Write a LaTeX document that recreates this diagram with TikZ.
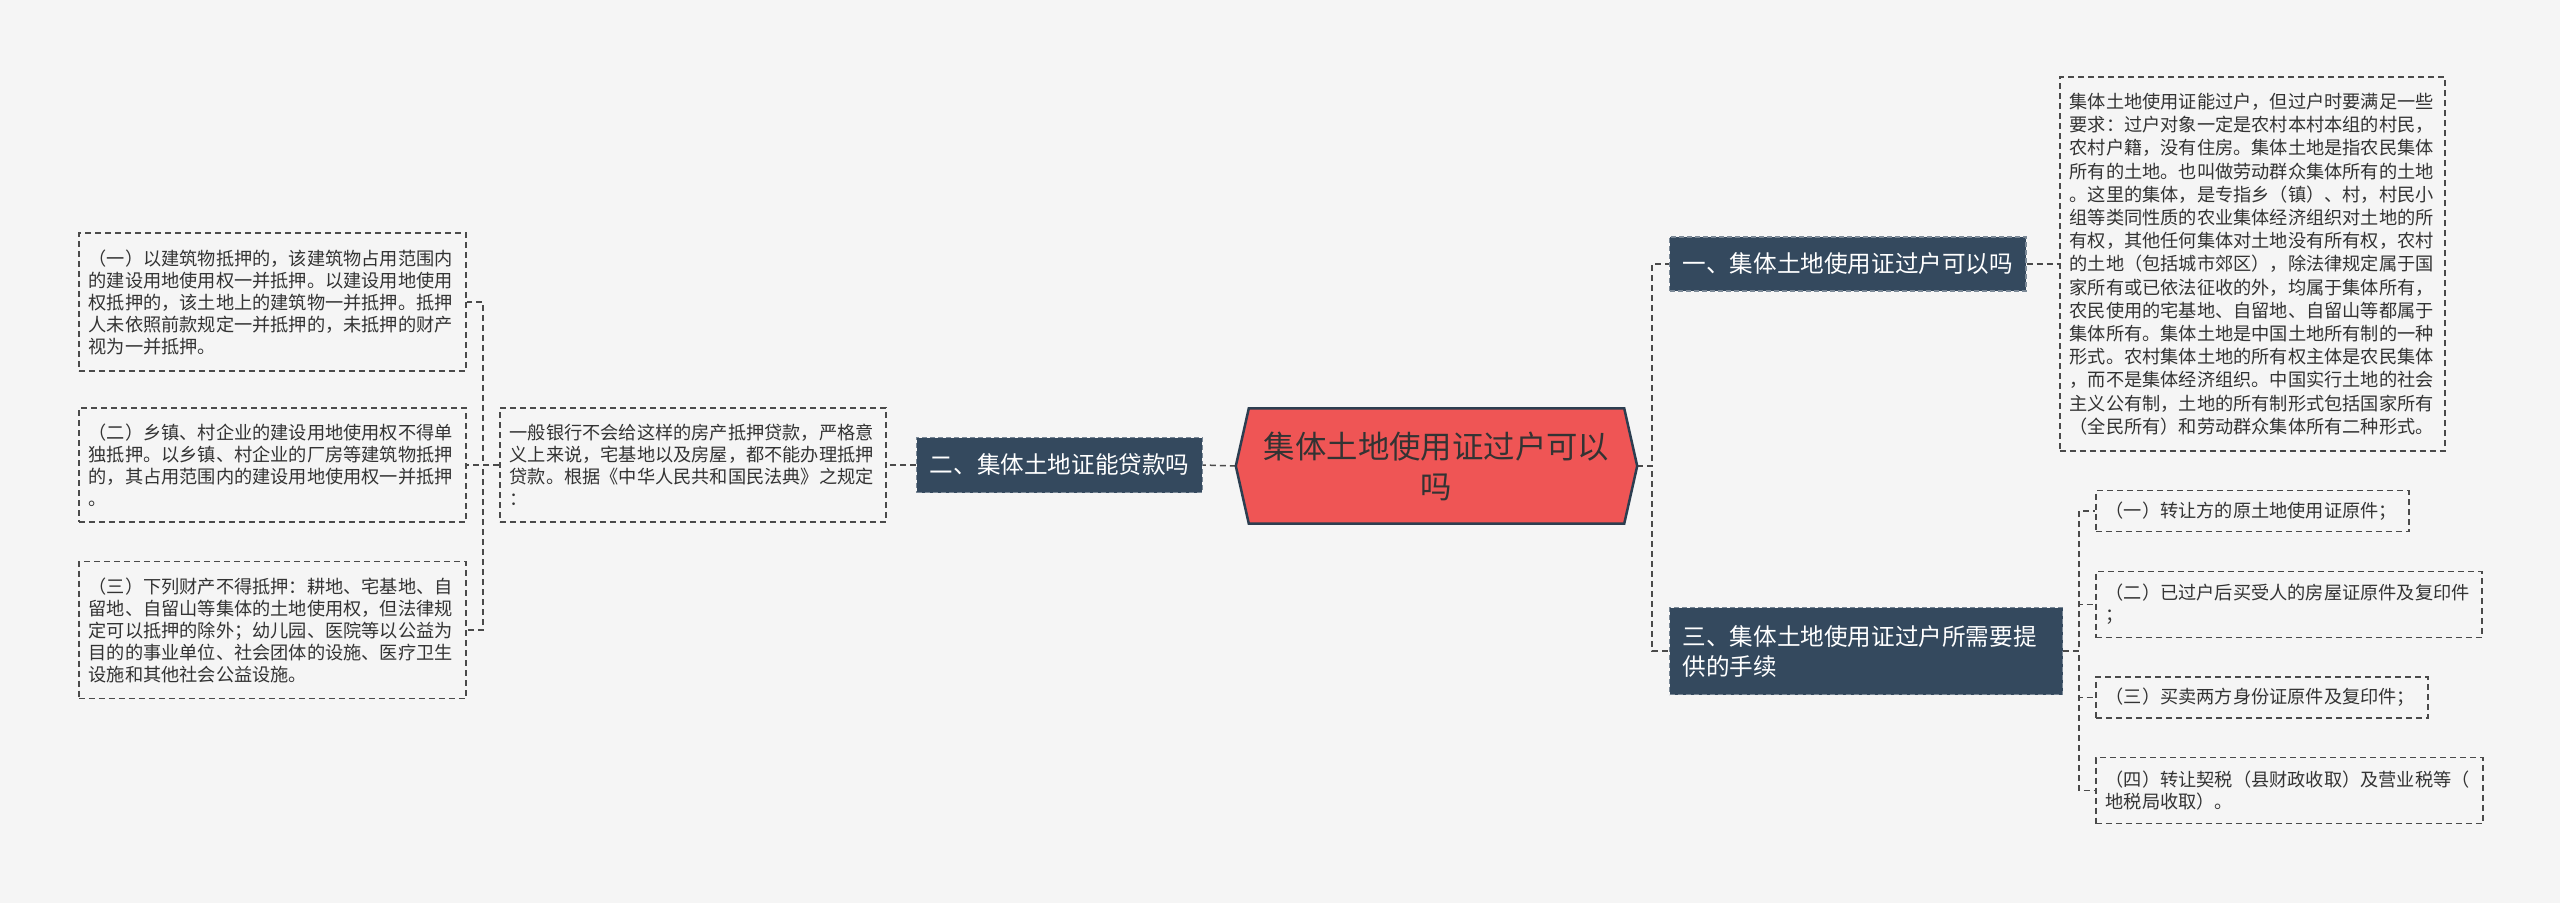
\documentclass[tikz,border=0pt]{standalone}
\usepackage{fontspec}
\setmainfont{Noto Sans CJK SC}
\usetikzlibrary{backgrounds}
\definecolor{bgc}{HTML}{F5F5F5}
\definecolor{linec}{HTML}{4A4A4A}
\definecolor{navy}{HTML}{34495E}
\definecolor{navyedge}{HTML}{7A8896}
\definecolor{cred}{HTML}{EF5555}
\definecolor{hexedge}{HTML}{2C3E50}
\definecolor{txt}{HTML}{333333}
\tikzset{
  conn/.style={draw=linec, line width=1.5pt, dash pattern=on 6pt off 4pt},
  tbox/.style={draw=linec, line width=1.5pt, dash pattern=on 6pt off 4pt, text=txt,
    inner xsep=10pt, inner ysep=4pt, align=left, anchor=west,
    font=\fontsize{18.2}{22}\selectfont},
  branch/.style={fill=navy, draw=navyedge, line width=1.2pt, dash pattern=on 5pt off 3pt,
    text=white, inner xsep=13pt, align=left,
    font=\fontsize{23.6}{30}\selectfont},
  central/.style={text=txt, align=center, minimum width=401pt, minimum height=115pt,
    inner sep=0pt, font=\fontsize{31.4}{40}\selectfont}
}
\begin{document}
\begin{tikzpicture}[x=1pt,y=-1pt]
\useasboundingbox (0,0) rectangle (2560,903);

% central node
\node[central] (c) at (1436.5,466) {集体土地使用证过户可以\\吗};

% branches
\node[branch, anchor=west, minimum width=356pt, minimum height=54pt, align=center] (b1) at (1669,264) {一、集体土地使用证过户可以吗};
\node[branch, anchor=west, text width=367pt, minimum height=87pt] (b3) at (1669,651) {三、集体土地使用证过户所需要提\\供的手续};
\node[branch, anchor=east, minimum width=285pt, minimum height=55pt, align=center] (b2) at (1203,465) {二、集体土地证能贷款吗};

% right top text
\node[tbox, text width=365pt, minimum height=374pt, font=\fontsize{18.2}{23.2}\selectfont] (t1) at (2059,264) {集体土地使用证能过户，但过户时要满足一些\\
要求：过户对象一定是农村本村本组的村民，\\
农村户籍，没有住房。集体土地是指农民集体\\
所有的土地。也叫做劳动群众集体所有的土地\\
。这里的集体，是专指乡（镇）、村，村民小\\
组等类同性质的农业集体经济组织对土地的所\\
有权，其他任何集体对土地没有所有权，农村\\
的土地（包括城市郊区），除法律规定属于国\\
家所有或已依法征收的外，均属于集体所有，\\
农民使用的宅基地、自留地、自留山等都属于\\
集体所有。集体土地是中国土地所有制的一种\\
形式。农村集体土地的所有权主体是农民集体\\
，而不是集体经济组织。中国实行土地的社会\\
主义公有制，土地的所有制形式包括国家所有\\
（全民所有）和劳动群众集体所有二种形式。};

% right items
\node[tbox, text width=293pt, minimum height=41pt] (r1) at (2095,511) {（一）转让方的原土地使用证原件；};
\node[tbox, text width=366pt, minimum height=66pt] (r2) at (2095,604.5) {（二）已过户后买受人的房屋证原件及复印件\\；};
\node[tbox, text width=312pt, minimum height=41pt] (r3) at (2095,697.5) {（三）买卖两方身份证原件及复印件；};
\node[tbox, text width=367pt, minimum height=66pt] (r4) at (2095,790.5) {（四）转让契税（县财政收取）及营业税等（\\地税局收取）。};

% middle text
\node[tbox, text width=366pt, minimum height=114pt] (m) at (499,465) {一般银行不会给这样的房产抵押贷款，严格意\\
义上来说，宅基地以及房屋，都不能办理抵押\\
贷款。根据《中华人民共和国民法典》之规定\\
：};

% left texts
\node[tbox, text width=367pt, minimum height=138pt] (l1) at (78,302) {（一）以建筑物抵押的，该建筑物占用范围内\\
的建设用地使用权一并抵押。以建设用地使用\\
权抵押的，该土地上的建筑物一并抵押。抵押\\
人未依照前款规定一并抵押的，未抵押的财产\\
视为一并抵押。};
\node[tbox, text width=367pt, minimum height=114pt] (l2) at (78,465) {（二）乡镇、村企业的建设用地使用权不得单\\
独抵押。以乡镇、村企业的厂房等建筑物抵押\\
的，其占用范围内的建设用地使用权一并抵押\\
。};
\node[tbox, text width=367pt, minimum height=137pt] (l3) at (78,630) {（三）下列财产不得抵押：耕地、宅基地、自\\
留地、自留山等集体的土地使用权，但法律规\\
定可以抵押的除外；幼儿园、医院等以公益为\\
目的的事业单位、社会团体的设施、医疗卫生\\
设施和其他社会公益设施。};

% background and hexagon
\begin{scope}[on background layer]
\fill[bgc] (0,0) rectangle (2560,903);
\draw[conn] (c.east) -- ++(15,0) |- (b1.west);
\draw[conn] (c.east) -- ++(15,0) |- (b3.west);
\draw[conn] (b1.east) -- (t1.west);
\draw[conn] (b3.east) -- ++(16,0) |- (r1.west);
\draw[conn] (b3.east) -- ++(16,0) |- (r2.west);
\draw[conn] (b3.east) -- ++(16,0) |- (r3.west);
\draw[conn] (b3.east) -- ++(16,0) |- (r4.west);
\draw[conn] (c.west) -- (b2.east);
\draw[conn] (b2.west) -- (m.east);
\draw[conn] (m.west) -- ++(-16,0) |- (l1.east);
\draw[conn] (m.west) -- ++(-16,0) |- (l2.east);
\draw[conn] (m.west) -- ++(-16,0) |- (l3.east);
\draw[draw=hexedge, line width=2.5pt, fill=cred, line join=miter]
  ([xshift=13pt]c.north west) -- ([xshift=-13pt]c.north east) -- (c.east)
  -- ([xshift=-13pt]c.south east) -- ([xshift=13pt]c.south west) -- (c.west) -- cycle;
\end{scope}
\end{tikzpicture}
\end{document}
